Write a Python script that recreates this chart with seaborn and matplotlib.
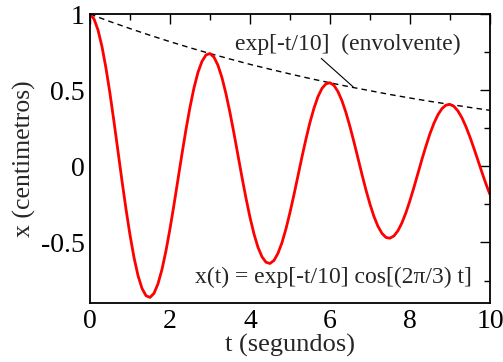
import matplotlib
matplotlib.use('Agg')
import matplotlib.pyplot as plt
import numpy as np
import pandas as pd
import seaborn as sns

# Oscillation, every 0.1 s from 0 to 10
t_osc = np.round(np.arange(0, 101) * 0.1, 1)
x_osc = [
    1.000, 0.968, 0.895, 0.785, 0.643, 0.476, 0.291, 0.097, -0.097, -0.282,
    -0.452, -0.599, -0.718, -0.802, -0.850, -0.861, -0.834, -0.771, -0.676, -0.553,
    -0.409, -0.251, -0.084, 0.083, 0.243, 0.389, 0.516, 0.618, 0.690, 0.732,
    0.741, 0.717, 0.663, 0.582, 0.476, 0.352, 0.216, 0.072, -0.072, -0.209,
    -0.335, -0.444, -0.532, -0.594, -0.630, -0.638, -0.618, -0.571, -0.501, -0.410,
    -0.303, -0.186, -0.062, 0.062, 0.180, 0.289, 0.382, 0.458, 0.512, 0.542,
    0.549, 0.532, 0.491, 0.431, 0.353, 0.261, 0.160, 0.054, -0.053, -0.155,
    -0.248, -0.329, -0.394, -0.440, -0.467, -0.472, -0.457, -0.423, -0.371, -0.304,
    -0.225, -0.138, -0.046, 0.046, 0.133, 0.214, 0.283, 0.339, 0.379, 0.402,
    0.407, 0.394, 0.364, 0.319, 0.261, 0.193, 0.118, 0.040, -0.039, -0.115,
    -0.184,
]

# Envelope (dashed), every 0.5 s
t_env = [0, 0.5, 1, 1.5, 2, 2.5, 3, 3.5, 4, 4.5, 5, 5.5, 6, 6.5, 7, 7.5, 8, 8.5, 9, 9.5, 10]
x_env = [1.000, 0.951, 0.905, 0.861, 0.819, 0.779, 0.741, 0.705, 0.670, 0.638, 0.607,
         0.577, 0.549, 0.522, 0.497, 0.472, 0.449, 0.427, 0.407, 0.387, 0.368]

x_ticks = [0, 2, 4, 6, 8, 10]
y_ticks = [-0.5, 0, 0.5, 1]
y_labels = ['-0.5', '0', '0.5', '1']

sns.set_style('white')
plt.rcParams['font.family'] = ['Liberation Serif', 'DejaVu Serif']

fig = plt.figure(figsize=(5.03, 3.62), dpi=100)
ax = fig.add_axes([0.179, 0.162, 0.795, 0.799])

osc = pd.DataFrame({'t': t_osc, 'x': x_osc})
env = pd.DataFrame({'t': t_env, 'x': x_env})
sns.lineplot(data=env, x='t', y='x', ax=ax, color='black', linewidth=1.0,
             linestyle=(0, (4, 3)))
sns.lineplot(data=osc, x='t', y='x', ax=ax, color='#ff0000', linewidth=2.0)

ax.set_xlim(0, 10)
ax.set_ylim(-0.9, 1.0)
ax.set_xticks(x_ticks)
ax.set_xticklabels([str(v) for v in x_ticks])
ax.set_yticks(y_ticks)
ax.set_yticklabels(y_labels)
ax.xaxis.set_minor_locator(matplotlib.ticker.MultipleLocator(1))
ax.yaxis.set_minor_locator(matplotlib.ticker.MultipleLocator(0.25))
ax.tick_params(which='both', direction='in', top=True, right=True,
               labelsize=20, width=1.0, colors='black', pad=4)
ax.tick_params(which='major', length=7)
ax.tick_params(which='minor', length=4)
for s in ax.spines.values():
    s.set_color('black')
    s.set_linewidth(1.3)

ax.set_xlabel('t (segundos)', fontsize=19, labelpad=0)
ax.set_ylabel('x (centimetros)', fontsize=18.5, labelpad=3)

ax.annotate('exp[-t/10]  (envolvente)', xy=(6.58, 0.522), xytext=(3.63, 0.80),
            fontsize=17, va='center', ha='left',
            arrowprops=dict(arrowstyle='-', color='black', lw=0.8,
                            shrinkA=0, shrinkB=0, relpos=(0.36, 0.05)))
ax.text(2.62, -0.73, 'x(t) = exp[-t/10] cos[(2\u03c0/3) t]', fontsize=17,
        va='center', ha='left')

fig.savefig('out.png', dpi=100)
